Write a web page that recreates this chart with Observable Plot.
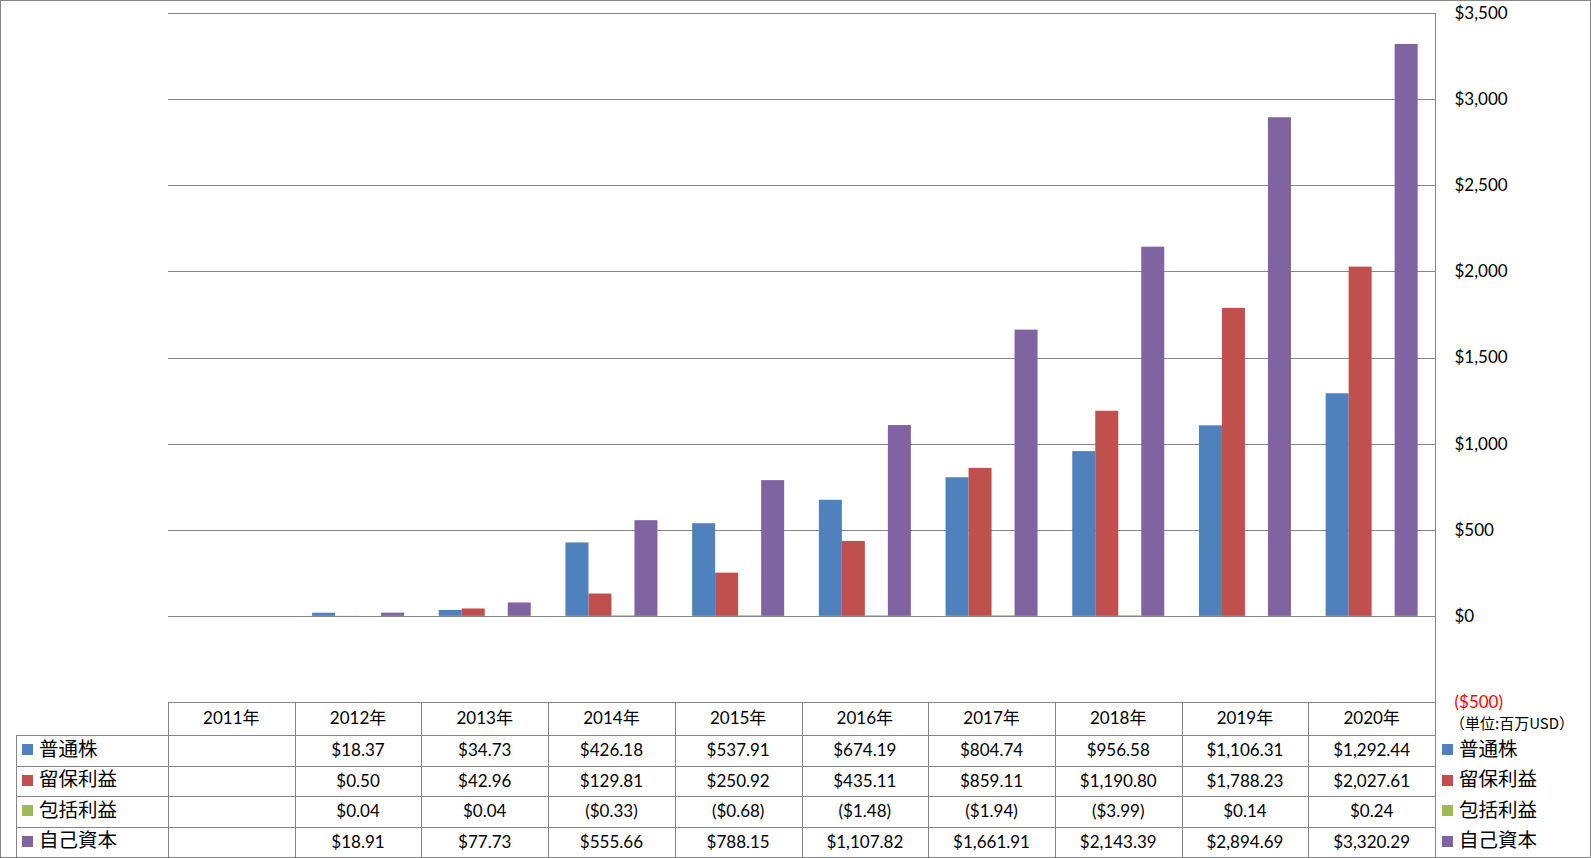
<!DOCTYPE html>
<html><head><meta charset="utf-8">
<script src="https://cdn.jsdelivr.net/npm/d3@7"></script>
<script src="https://cdn.jsdelivr.net/npm/@observablehq/plot@0.6"></script>
<style>
html,body{margin:0;padding:0;background:#fff;}
#chart{position:relative;width:1591px;height:858px;overflow:hidden;font-family:Lato,"Noto Sans CJK JP",sans-serif;color:#000;}
#chart svg{position:absolute;left:0;top:0;}
.frame{position:absolute;left:0;top:0;width:1591px;height:858px;box-sizing:border-box;border:1px solid #868686;pointer-events:none;}
.cell{position:absolute;box-sizing:border-box;display:flex;align-items:center;justify-content:center;font-size:17px;white-space:nowrap;}
.lab{position:absolute;display:flex;align-items:center;white-space:nowrap;font-family:"Noto Sans CJK JP",sans-serif;font-size:19.5px;}
.sq{position:absolute;width:11px;height:11px;}
.hl{position:absolute;height:1px;background:#868686;}
.vl{position:absolute;width:1px;background:#868686;}
</style></head><body><div id="chart"></div>
<script>
// ---- data ----
const years = ["2011年","2012年","2013年","2014年","2015年","2016年","2017年","2018年","2019年","2020年"];
const seriesNames = ["普通株","留保利益","包括利益","自己資本"];
const commonStock   = [null, 18.37, 34.73, 426.18, 537.91, 674.19, 804.74, 956.58, 1106.31, 1292.44];
const retained      = [null, 0.50, 42.96, 129.81, 250.92, 435.11, 859.11, 1190.80, 1788.23, 2027.61];
const comprehensive = [null, 0.04, 0.04, -0.33, -0.68, -1.48, -1.94, -3.99, 0.14, 0.24];
const equity        = [null, 18.91, 77.73, 555.66, 788.15, 1107.82, 1661.91, 2143.39, 2894.69, 3320.29];
const yTicks = [-500, 0, 500, 1000, 1500, 2000, 2500, 3000, 3500];
const unitNote = "（単位:百万USD）";

// ---- styles / layout ----
const seriesColors = ["#4F81BD","#C0504D","#9BBB59","#8064A2"];
const seriesValues = [commonStock, retained, comprehensive, equity];
const W = 1591, H = 858, L = 168, R = 1435, T = 13, B = 702;
const step = (R - L) / years.length;
const bw = 23;
const pad = (step - bw * seriesNames.length) / 2;
const rowEdges = [702, 735, 765.5, 796, 826.5, 857];

const money = v => v < 0 ? `($${d3.format(",.2f")(-v)})` : `$${d3.format(",.2f")(v)}`;
const tickFmt = v => v < 0 ? `($${d3.format(",")(-v)})` : `$${d3.format(",")(v)}`;

const marks = [
  Plot.ruleY(yTicks.filter(d => d !== 0), {stroke: "#868686", strokeWidth: 1, shapeRendering: "crispEdges"})
];
seriesNames.forEach((name, k) => {
  const rows = years.map((yr, i) => ({year: yr, value: seriesValues[k][i]})).filter(d => d.value != null);
  const inset = {insetLeft: pad + k * bw, insetRight: step - pad - (k + 1) * bw};
  // bars
  marks.push(Plot.barY(rows.filter(d => d.value >= 0), {x: "year", y: "value", fill: seriesColors[k], ...inset}));
  // negative (tiny) bars get a hairline outline so they show below the axis, as in the spreadsheet rendering
  marks.push(Plot.barY(rows.filter(d => d.value < 0), {x: "year", y: "value", fill: seriesColors[k], stroke: seriesColors[k], strokeWidth: 1, ...inset}));
});
marks.push(Plot.ruleY([0], {stroke: "#868686", strokeWidth: 1, shapeRendering: "crispEdges"}));
marks.push(Plot.text(yTicks.filter(d => d >= 0), {y: d => d, frameAnchor: "right", dx: 19, textAnchor: "start", text: tickFmt, fill: "#000", fontSize: 17}));
marks.push(Plot.text(yTicks.filter(d => d < 0), {y: d => d, frameAnchor: "right", dx: 19, textAnchor: "start", text: tickFmt, fill: "#FF0000", fontSize: 17}));

const svg = Plot.plot({
  width: W, height: H,
  marginLeft: L, marginRight: W - R, marginTop: T, marginBottom: H - B,
  x: {type: "band", domain: years, padding: 0, round: false, axis: null},
  y: {domain: [-500, 3500], axis: null},
  style: {fontFamily: 'Lato, "Noto Sans CJK JP", sans-serif', fontSize: "17px", background: "transparent", color: "#000"},
  marks
});
const chart = document.getElementById("chart");
chart.appendChild(svg);

function add(cls, css, text) {
  const d = document.createElement("div");
  d.className = cls;
  Object.assign(d.style, css);
  if (text != null) d.textContent = text;
  chart.appendChild(d);
  return d;
}
// table lines
const colX = i => Math.round(L + i * step);
add("hl", {left: L + "px", top: "702px", width: (R - L + 1) + "px"});
for (let r = 1; r < rowEdges.length - 1; r++) {
  add("hl", {left: "16px", top: Math.round(rowEdges[r]) + "px", width: (R - 16 + 1) + "px"});
}
add("vl", {left: "16px", top: "735px", height: (857 - 735) + "px"});
for (let i = 0; i < years.length; i++) {
  add("vl", {left: colX(i) + "px", top: "702px", height: (857 - 702) + "px"});
}
add("vl", {left: R + "px", top: T + "px", height: (857 - T) + "px"});

// header + cells
years.forEach((yr, i) => {
  const x0 = L + i * step;
  add("cell", {left: x0 + "px", top: (rowEdges[0] - 1) + "px", width: step + "px", height: (rowEdges[1] - rowEdges[0] - 2) + "px"}, yr);
  seriesValues.forEach((vals, k) => {
    const v = vals[i];
    add("cell", {left: x0 + "px", top: rowEdges[k + 1] + "px", width: step + "px", height: (rowEdges[k + 2] - rowEdges[k + 1] - 1) + "px"}, v == null ? "" : money(v));
  });
});
// row labels (left) and legend (right)
seriesNames.forEach((name, k) => {
  const top = rowEdges[k + 1], h = rowEdges[k + 2] - rowEdges[k + 1];
  const cy = top + h / 2;
  add("sq", {left: "22px", top: (Math.round(cy) - 6) + "px", background: seriesColors[k]});
  add("lab", {left: "39px", top: (top - 3) + "px", height: h + "px"}, name);
  add("sq", {left: "1442px", top: (Math.round(cy) - 6) + "px", background: seriesColors[k]});
  add("lab", {left: "1459px", top: (top - 3) + "px", height: h + "px"}, name);
});
add("lab", {left: "1450px", top: "712px", height: "20px", fontSize: "15px"}, unitNote);
add("frame", {});
</script>
</body></html>
